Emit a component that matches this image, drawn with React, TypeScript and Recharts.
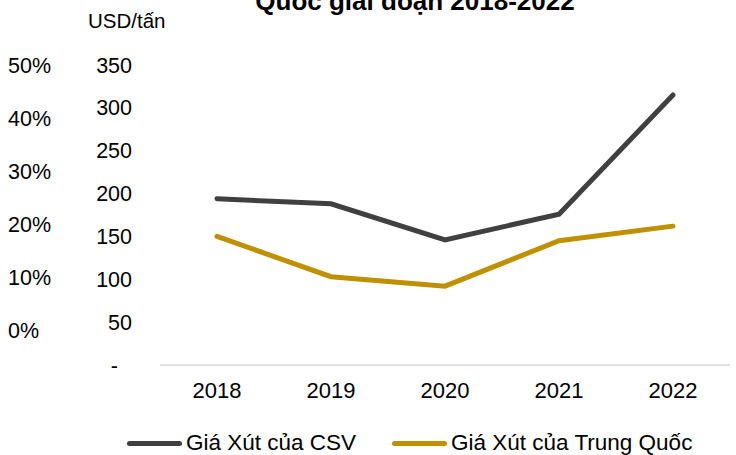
import { LineChart, Line, XAxis, YAxis, Legend } from "recharts";

// Giá Xút (USD/tấn) — CSV vs Trung Quốc, 2018-2022
const years = ["2018", "2019", "2020", "2021", "2022"];
const csvPrice = [194, 188, 146, 176, 315];
const chinaPrice = [150, 103, 92, 145, 162];
const usdTicks = [0, 50, 100, 150, 200, 250, 300, 350];
const pctTicks = [0, 10, 20, 30, 40, 50];

const CSV_COLOR = "#404040";
const CN_COLOR = "#BF9000";
const FONT = "'Liberation Sans', Arial, sans-serif";

const data = years.map((year, i) => ({
  year,
  csv: csvPrice[i],
  china: chinaPrice[i],
}));

const PctTick = ({ y, payload }: any) => (
  <text x={8} y={y} dy="0.35em" textAnchor="start" fontSize={21.5} fontFamily={FONT} fill="#000">
    {payload.value}%
  </text>
);

const UsdTick = ({ y, payload }: any) => (
  <text
    x={payload.value === 0 ? 118 : 132}
    y={y}
    dy="0.35em"
    textAnchor="end"
    fontSize={21.5}
    fontFamily={FONT}
    fill="#000"
  >
    {payload.value === 0 ? "-" : payload.value}
  </text>
);

const legendItems = [
  { label: "Giá Xút của CSV", color: CSV_COLOR, width: 265 },
  { label: "Giá Xút của Trung Quốc", color: CN_COLOR, width: 320 },
];

const LegendContent = () => (
  <div style={{ display: "flex", height: 24, alignItems: "center", paddingLeft: 127 }}>
    {legendItems.map((it) => (
      <div key={it.label} style={{ display: "flex", alignItems: "center", width: it.width }}>
        <span
          style={{
            display: "inline-block",
            width: 55,
            height: 5,
            borderRadius: 3,
            background: it.color,
            marginRight: 4,
          }}
        />
        <span style={{ fontSize: 22.5, fontFamily: FONT, color: "#000", whiteSpace: "nowrap" }}>
          {it.label}
        </span>
      </div>
    ))}
  </div>
);

export default function App() {
  return (
    <div style={{ position: "absolute", left: 0, top: 0, width: 736, height: 455, background: "#fff" }}>
      <LineChart width={736} height={455} data={data} margin={{ top: 65, right: 6, bottom: 0, left: 0 }}>
        <XAxis
          dataKey="year"
          padding={{ left: 57, right: 57 }}
          axisLine={{ stroke: "#d9d9d9", strokeWidth: 1.5 }}
          tickLine={false}
          tickSize={0}
          tickMargin={17}
          height={66}
          tick={{ fill: "#000", fontSize: 22, fontFamily: FONT }}
        />
        <YAxis
          yAxisId="pct"
          width={80}
          type="number"
          domain={[-6.6, 50]}
          ticks={pctTicks}
          allowDataOverflow
          axisLine={false}
          tickLine={false}
          tick={<PctTick />}
        />
        <YAxis
          yAxisId="usd"
          width={80}
          domain={[0, 350]}
          ticks={usdTicks}
          axisLine={false}
          tickLine={false}
          tick={<UsdTick />}
        />
        <Legend verticalAlign="bottom" content={<LegendContent />} />
        {/* placeholder series so the % axis gets drawn (the reference shows it with no data) */}
        <Line
          yAxisId="pct"
          dataKey="pct"
          stroke="none"
          dot={false}
          activeDot={false}
          legendType="none"
          isAnimationActive={false}
        />
        <Line
          yAxisId="usd"
          dataKey="csv"
          name="Giá Xút của CSV"
          stroke={CSV_COLOR}
          strokeWidth={5}
          strokeLinecap="round"
          dot={false}
          activeDot={false}
          isAnimationActive={false}
        />
        <Line
          yAxisId="usd"
          dataKey="china"
          name="Giá Xút của Trung Quốc"
          stroke={CN_COLOR}
          strokeWidth={5}
          strokeLinecap="round"
          dot={false}
          activeDot={false}
          isAnimationActive={false}
        />
      </LineChart>
      <svg width={736} height={40} style={{ position: "absolute", left: 0, top: 0, pointerEvents: "none" }}>
        <text x={415} y={10} textAnchor="middle" fontSize={26} fontWeight="bold" fontFamily={FONT} fill="#000">
          Quốc giai đoạn 2018-2022
        </text>
        <text x={88} y={28} fontSize={20.5} fontFamily={FONT} fill="#000">
          USD/tấn
        </text>
      </svg>
    </div>
  );
}
